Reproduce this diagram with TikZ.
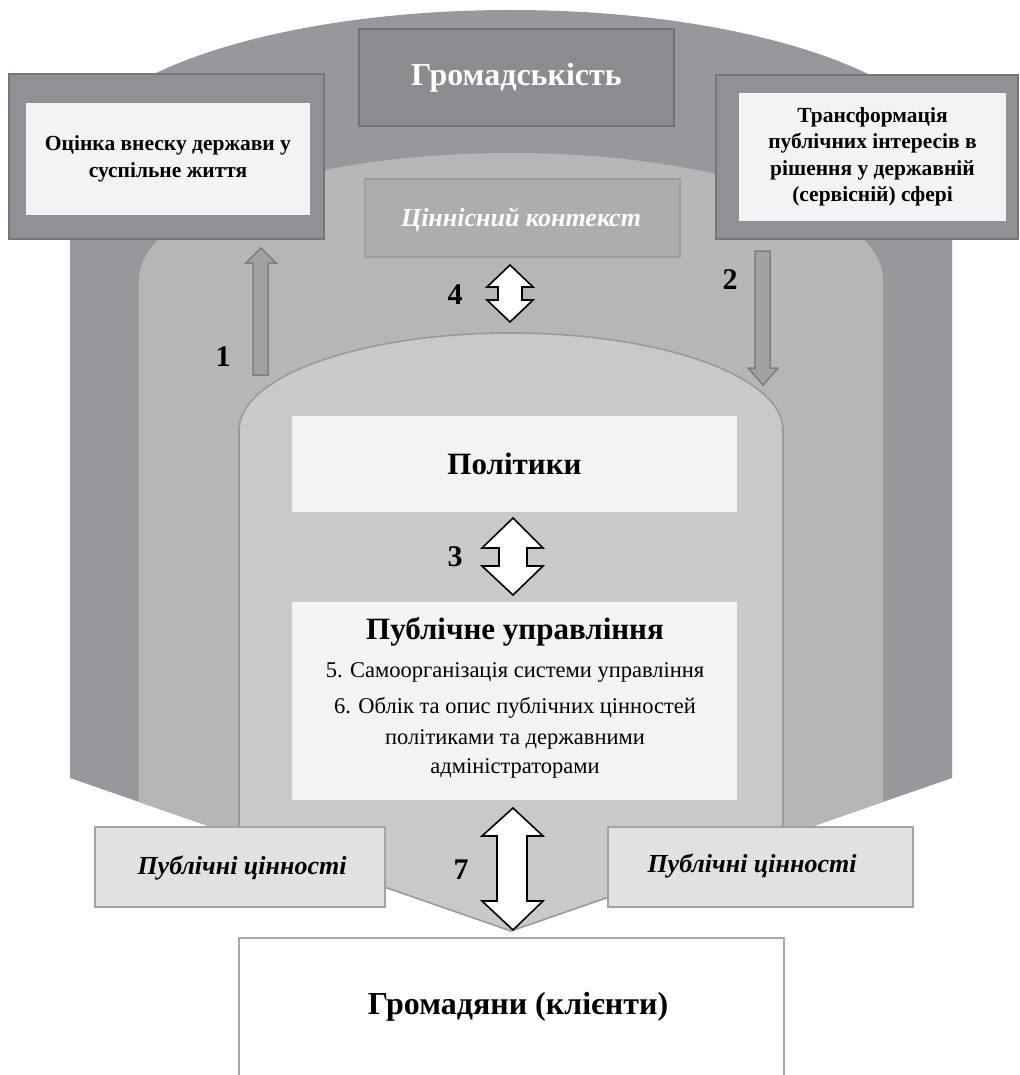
\documentclass[tikz,border=0pt]{standalone}
\usepackage{fontspec}
\setmainfont{Liberation Serif}
\definecolor{outerc}{HTML}{98989C}
\definecolor{midc}{HTML}{B6B6B9}
\definecolor{innerc}{HTML}{C9C9CB}
\definecolor{innerl}{HTML}{9A9A9D}
\definecolor{gbox}{HTML}{8C8C90}
\definecolor{gboxl}{HTML}{727276}
\definecolor{sbox}{HTML}{919195}
\definecolor{sboxl}{HTML}{76767A}
\definecolor{wfill}{HTML}{F2F3F3}
\definecolor{ctx}{HTML}{ADADB0}
\definecolor{ctxl}{HTML}{9E9EA1}
\definecolor{arrf}{HTML}{A2A2A5}
\definecolor{arrl}{HTML}{7E7E81}
\definecolor{pvf}{HTML}{E1E1E3}
\definecolor{pvl}{HTML}{A3A3A5}
\definecolor{cbl}{HTML}{A9A9AB}
\begin{document}
\begin{tikzpicture}[x=1pt,y=-1pt,
  boxbase/.style={inner sep=0pt,outer sep=0pt,anchor=center,align=center},
  darkbox/.style={boxbase,fill=sbox,draw=sboxl,line width=2.5pt},
  whitebox/.style={boxbase,fill=wfill},
  pvbox/.style={boxbase,fill=pvf,draw=pvl,line width=2pt},
  boldtxt/.style={font=\bfseries\fontsize{21.5}{26.5}\selectfont},
  bodytxt/.style={inner sep=0pt,font=\fontsize{22.5}{26}\selectfont},
  pvtxt/.style={inner sep=0pt,font=\bfseries\itshape\fontsize{26}{30}\selectfont},
  numlbl/.style={inner sep=0pt,font=\bfseries\fontsize{30}{32}\selectfont},
  greyarrow/.style={fill=arrf,draw=arrl,line width=1.5pt,line join=miter},
  whitearrow/.style={fill=white,draw=black,line width=1.6pt,line join=miter}]
\useasboundingbox (0,0) rectangle (1019,1075);
\clip (0,0) rectangle (1019,1075);
\fill[white] (0,0) rectangle (1019,1075);
% outer layer
\fill[outerc] (70,778) -- (70,165)
  .. controls (70,79.4) and (267.4,10) .. (511,10)
  .. controls (754.6,10) and (952,79.4) .. (952,165)
  -- (952,778) -- (511,931) -- cycle;
% middle layer
\fill[midc] (139,801.9) -- (139,280)
  .. controls (139,209.9) and (305.5,153) .. (511,153)
  .. controls (716.5,153) and (883,209.9) .. (883,280)
  -- (883,801.9) -- (511,931) -- cycle;
% inner layer
\filldraw[fill=innerc,draw=innerl,line width=1.6pt] (239,836.6) -- (239,430)
  .. controls (239,376.4) and (360.8,333) .. (511,333)
  .. controls (661.2,333) and (783,376.4) .. (783,430)
  -- (783,836.6) -- (511,931) -- cycle;
% top box
\node[boxbase,fill=gbox,draw=gboxl,line width=2pt,minimum width=315pt,minimum height=97pt,
  text=white,font=\bfseries\fontsize{32}{36}\selectfont] (soc) at (516.5,77.5) {Громадськість};
% left box
\node[darkbox,minimum width=315pt,minimum height=165pt] (lbox) at (166.5,156.5) {};
\node[whitebox,minimum width=284pt,minimum height=112pt,boldtxt] (ltxt) at (168,159)
  {Оцінка внеску держави у\\суспільне життя};
% right box
\node[darkbox,minimum width=302pt,minimum height=164pt] (rbox) at (867,157) {};
\node[whitebox,minimum width=267pt,minimum height=128pt,boldtxt] (rtxt) at (872.5,157)
  {Трансформація\\публічних інтересів в\\рішення у державній\\(сервісній) сфері};
% value context box
\node[boxbase,fill=ctx,draw=ctxl,line width=1.5pt,minimum width=315pt,minimum height=78pt] (ctxbox) at (522.5,218) {};
\node[pvtxt,text=white] (ctxt) at (521,220) {Ціннісний контекст};
% politicians
\node[whitebox,minimum width=445pt,minimum height=96pt,font=\bfseries\fontsize{31}{34}\selectfont]
  (pol) at (514.5,464) {Політики};
% public management
\node[whitebox,minimum width=445pt,minimum height=198pt] (pm) at (514.5,701) {};
\node[inner sep=0pt,font=\bfseries\fontsize{31}{34}\selectfont] (pmt) at (515,632) {Публічне управління};
\node[bodytxt] (pm5) at (515,672) {5. Самоорганізація системи управління};
\node[bodytxt] (pm6) at (515,708) {6. Облік та опис публічних цінностей};
\node[bodytxt] (pm6b) at (515,739) {політиками та державними};
\node[bodytxt] (pm6c) at (515,768) {адміністраторами};
% public values
\node[pvbox,minimum width=290pt,minimum height=80pt] (pvl) at (240,867) {};
\node[pvtxt] (pvlt) at (242,868) {Публічні цінності};
\node[pvbox,minimum width=305pt,minimum height=80pt] (pvr) at (760.5,867) {};
\node[pvtxt] (pvrt) at (752,866) {Публічні цінності};
% citizens
\node[boxbase,fill=white,draw=cbl,line width=2pt,minimum width=545pt,minimum height=160pt] (cit) at (511.5,1018) {};
\node[inner sep=0pt,font=\bfseries\fontsize{32}{36}\selectfont] (citt) at (518,1007) {Громадяни (клієнти)};
% arrows
\draw[greyarrow] (261,248) -- (276,263) -- (268,263) -- (268,375) -- (253,375) -- (253,263) -- (246,263) -- cycle;
\draw[greyarrow] (763,385) -- (778,368) -- (770,368) -- (770,251) -- (755,251) -- (755,368) -- (748,368) -- cycle;
\draw[whitearrow] (510,265) -- (533,287) -- (522,287) -- (522,300) -- (533,300) -- (510,322)
  -- (487,300) -- (498,300) -- (498,287) -- (487,287) -- cycle;
\draw[whitearrow] (513,518) -- (543,548) -- (527,548) -- (527,566) -- (543,566) -- (513,595)
  -- (482,566) -- (499,566) -- (499,548) -- (482,548) -- cycle;
\draw[whitearrow] (513,808) -- (543,836) -- (527,836) -- (527,901) -- (543,901) -- (513,930)
  -- (482,901) -- (497,901) -- (497,836) -- (482,836) -- cycle;
% labels
\node[numlbl] (n1) at (223,357) {1};
\node[numlbl] (n2) at (730,280) {2};
\node[numlbl] (n4) at (455,295) {4};
\node[numlbl] (n3) at (455,557) {3};
\node[numlbl] (n7) at (461,870) {7};
\end{tikzpicture}
\end{document}
